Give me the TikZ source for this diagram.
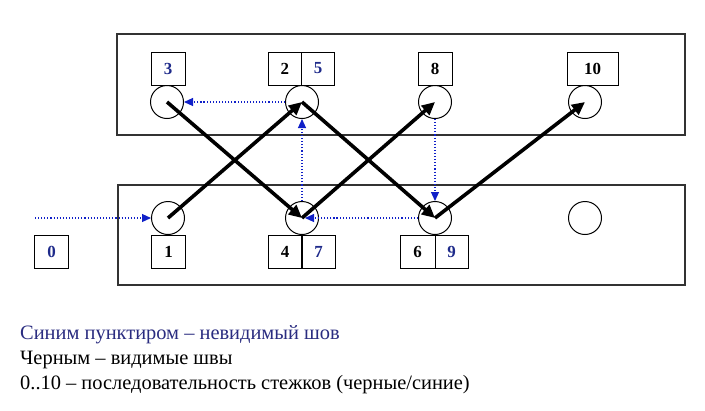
\documentclass[tikz,border=0pt]{standalone}
\usepackage{fontspec}
\setmainfont{Liberation Serif}
\usetikzlibrary{arrows.meta}
\definecolor{navy}{HTML}{1E2A8A}
\definecolor{legblue}{HTML}{2A2C80}
\definecolor{dotblue}{HTML}{1020C8}
\definecolor{frame}{HTML}{333333}
\begin{document}
\begin{tikzpicture}[x=1bp,y=-1bp,
  panel/.style={draw=frame,line width=1.3bp},
  stitch/.style={circle,draw,line width=1bp,minimum size=33bp,inner sep=0pt},
  lbl/.style={draw,line width=1bp,minimum width=34bp,minimum height=33bp,inner sep=0pt,font=\fontsize{17}{19}\selectfont\bfseries},
  bl/.style={lbl,text=navy},
  visible/.style={line width=3.6bp,-{Triangle[length=13bp,width=12bp]}},
  hidden/.style={dotblue,dotted,line width=1.1bp,-{Triangle[length=9bp,width=8bp]}},
  legend/.style={anchor=base west,inner sep=0pt,font=\fontsize{20.5}{24}\selectfont}
]
\useasboundingbox (0,0) rectangle (705,410);
% panels
\node[panel,minimum width=568bp,minimum height=101bp,inner sep=0pt] (top) at (401,84.5) {};
\node[panel,minimum width=567bp,minimum height=100bp,inner sep=0pt] (bot) at (401.5,235) {};
% stitches
\node[stitch] (c3) at (167,102) {};
\node[stitch] (c2) at (302,102) {};
\node[stitch] (c8) at (435,102) {};
\node[stitch] (c10) at (585,102) {};
\node[stitch] (c1) at (168,218) {};
\node[stitch] (c4) at (302,218) {};
\node[stitch] (c6) at (435,218) {};
\node[stitch] (c11) at (585,218) {};
% labels top
\node[bl] (l3) at (168,68.5) {3};
\node[lbl,minimum width=33.5bp] (l2) at (284.8,68.5) {2};
\node[bl,minimum width=33.5bp] (l5) at (318.2,68.5) {5};
\node[lbl] (l8) at (435,68.5) {8};
\node[lbl,minimum width=51bp] (l10) at (592.5,68.5) {10};
% labels bottom
\node[bl] (l0) at (51.5,251.5) {0};
\node[lbl] (l1) at (168.5,251.5) {1};
\node[lbl,minimum width=34bp] (l4) at (285,251.5) {4};
\node[bl,minimum width=33.5bp] (l7) at (318.7,251.5) {7};
\node[lbl,minimum width=35bp] (l6) at (417.5,251.5) {6};
\node[bl,minimum width=33bp] (l9) at (451.5,251.5) {9};
% hidden stitches
\coordinate (start) at (35,218);
\draw[hidden] (start) -- (c1.west);
\draw[hidden] (c2.west) -- (c3.east);
\draw[hidden] (c4.north) -- (c2.south);
\draw[hidden] (c8.south) -- (c6.north);
\draw[hidden,shorten >=3bp] (c6.west) -- (c4.center);
% visible stitches
\draw[visible] (c1.center) -- (c2.center);
\draw[visible] (c3.center) -- (c4.center);
\draw[visible] (c2.center) -- (c6.center);
\draw[visible] (c4.center) -- (c8.center);
\draw[visible] (c6.center) -- (c10.center);
% legend
\node[legend,text=legblue] (t1) at (20,339) {Синим пунктиром – невидимый шов};
\node[legend] (t2) at (20,364) {Черным – видимые швы};
\node[legend] (t3) at (20,389) {0..10 – последовательность стежков (черные/синие)};
\end{tikzpicture}
\end{document}
